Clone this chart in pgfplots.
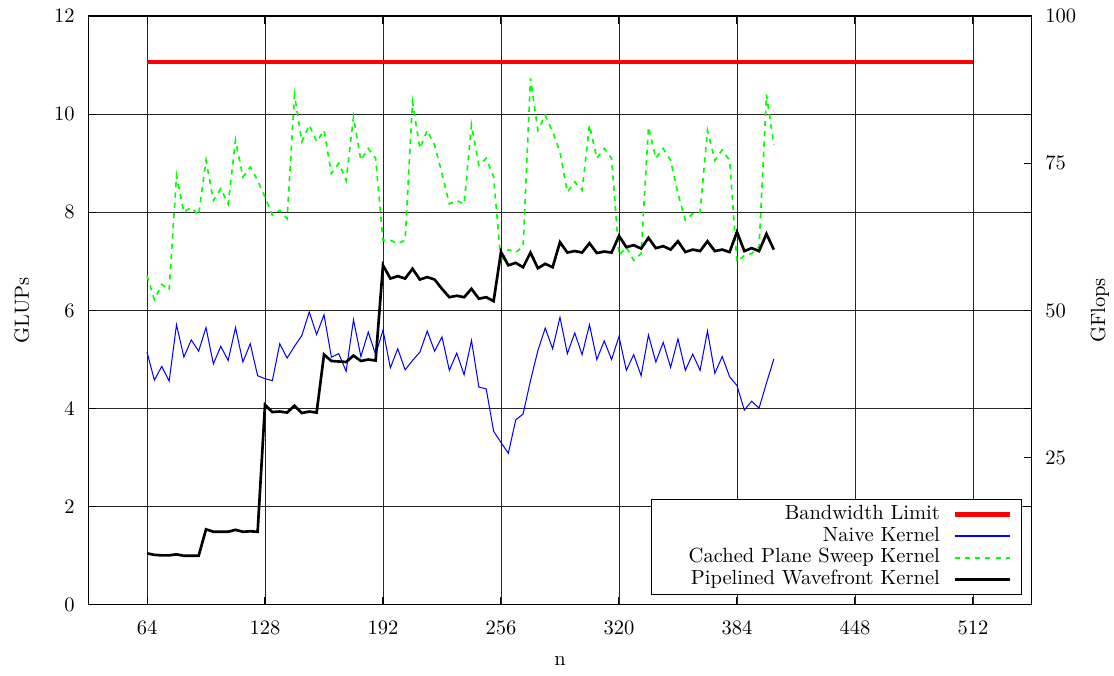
\documentclass[border=0pt]{standalone}
\usepackage{pgfplots}
\pgfplotsset{compat=1.18}
\definecolor{gpred}{RGB}{255,0,0}
\definecolor{gpgreen}{RGB}{0,255,0}
\definecolor{gpblue}{RGB}{0,0,255}

% n, GLUPs
\pgfplotstableread{
n naive cached pipe
64 5.15 6.71 1.05
68 4.58 6.22 1.02
72 4.86 6.53 1.01
76 4.56 6.42 1.01
80 5.71 8.75 1.03
84 5.05 8.00 1.00
88 5.40 8.10 1.00
92 5.17 7.94 1.00
96 5.65 9.06 1.54
100 4.91 8.24 1.49
104 5.27 8.48 1.49
108 4.98 8.17 1.49
112 5.65 9.47 1.53
116 4.95 8.72 1.49
120 5.32 8.92 1.50
124 4.67 8.65 1.49
128 4.61 8.31 4.08
132 4.57 7.94 3.93
136 5.32 8.04 3.94
140 5.03 7.87 3.92
144 5.27 10.39 4.06
148 5.49 9.44 3.91
152 5.97 9.78 3.94
156 5.51 9.44 3.92
160 5.91 9.67 5.10
164 5.05 8.79 4.97
168 5.12 9.00 4.96
172 4.76 8.65 4.95
176 5.81 9.94 5.08
180 5.06 9.06 4.97
184 5.56 9.30 5.00
188 5.10 9.10 4.98
192 5.60 7.43 6.92
196 4.83 7.43 6.65
200 5.22 7.36 6.70
204 4.79 7.43 6.65
208 4.98 10.25 6.85
212 5.15 9.30 6.63
216 5.58 9.67 6.68
220 5.17 9.37 6.63
224 5.46 8.79 6.44
228 4.78 8.17 6.27
232 5.13 8.24 6.30
236 4.69 8.17 6.27
240 5.39 9.78 6.44
244 4.44 8.96 6.24
248 4.40 9.10 6.27
252 3.54 8.72 6.19
256 3.31 6.98 7.19
260 3.09 7.24 6.92
264 3.77 7.18 6.97
268 3.89 7.31 6.88
272 4.57 10.73 7.18
276 5.18 9.67 6.86
280 5.64 9.98 6.95
284 5.22 9.64 6.88
288 5.86 9.23 7.39
292 5.12 8.41 7.18
296 5.54 8.62 7.21
300 5.10 8.45 7.18
304 5.71 9.78 7.37
308 5.00 9.10 7.17
312 5.38 9.30 7.20
316 5.00 9.10 7.18
320 5.47 7.12 7.52
324 4.78 7.29 7.29
328 5.10 7.02 7.33
332 4.67 7.16 7.26
336 5.50 9.74 7.48
340 4.95 9.10 7.27
344 5.35 9.30 7.31
348 4.84 9.06 7.24
352 5.42 8.38 7.41
356 4.78 7.84 7.19
360 5.11 7.97 7.24
364 4.78 8.00 7.21
368 5.58 9.67 7.41
372 4.72 9.06 7.21
376 5.06 9.27 7.24
380 4.65 9.06 7.19
384 4.47 6.99 7.60
388 3.97 7.12 7.21
392 4.15 7.16 7.27
396 4.01 7.30 7.21
400 4.52 10.40 7.56
404 5.01 9.37 7.24
}\kerneldata

\begin{document}
\begin{tikzpicture}
\begin{axis}[
    scale only axis,
    width=460pt, height=287pt,
    xmin=32, xmax=544,
    ymin=0, ymax=12,
    xtick={64,128,...,512},
    ytick={0,2,...,12},
    grid=major,
    grid style={black!85, line width=0.42pt},
    axis line style={black, line width=0.5pt},
    tick align=inside,
    major tick length=4pt,
    tick style={black, line width=0.5pt},
    xticklabel style={yshift=-4.5pt},
    yticklabel style={xshift=-3pt},
    xlabel={n},
    ylabel={GLUPs},
    xlabel style={at={(axis description cs:0.5,-0.095)}, anchor=center},
    ylabel style={at={(axis description cs:-0.070,0.5)}, anchor=center},
    legend plot pos=right,
    legend cell align=right,
    legend style={at={(0.9894,0.017)}, anchor=south east,
        inner xsep=4.5pt, inner ysep=2.3pt,
        column sep=5.5pt, row sep=0.6pt,
        nodes={inner sep=0.5pt, text height=7pt, text depth=2pt}},
]
\addplot[gpred, line width=2.3pt, forget plot] coordinates {(64,11.06) (512,11.06)};
\addplot[gpblue, line width=0.5pt, forget plot] table[x=n, y=naive] {\kerneldata};
\addplot[gpgreen, line width=0.8pt, dash pattern=on 2.5pt off 2.5pt, forget plot] table[x=n, y=cached] {\kerneldata};
\addplot[black, line width=1.3pt, forget plot] table[x=n, y=pipe] {\kerneldata};

\addlegendimage{legend image code/.code={\draw[gpred, line width=2.3pt] (0pt,0pt) -- (27pt,0pt);}}
\addlegendentry{Bandwidth Limit}
\addlegendimage{legend image code/.code={\draw[gpblue, line width=0.5pt] (0pt,0pt) -- (27pt,0pt);}}
\addlegendentry{Naive Kernel}
\addlegendimage{legend image code/.code={\draw[gpgreen, line width=0.8pt, dash pattern=on 2.5pt off 2.5pt] (0pt,0pt) -- (27pt,0pt);}}
\addlegendentry{\hspace*{13pt}Cached Plane Sweep Kernel}
\addlegendimage{legend image code/.code={\draw[black, line width=1.3pt] (0pt,0pt) -- (27pt,0pt);}}
\addlegendentry{Pipelined Wavefront Kernel}
\end{axis}
\begin{axis}[
    scale only axis,
    width=460pt, height=287pt,
    xmin=32, xmax=544,
    ymin=0, ymax=100,
    axis x line=none,
    axis y line*=right,
    ytick={25,50,75,100},
    tick align=inside,
    major tick length=4pt,
    tick style={black, line width=0.5pt},
    axis line style={black, line width=0.5pt, -},
    yticklabel style={xshift=3pt},
    ylabel={GFlops},
    ylabel style={at={(axis description cs:1.072,0.5)}, anchor=center, rotate=0},
]
\end{axis}
\pgfresetboundingbox
\path[use as bounding box] ([xshift=-42.9pt,yshift=-34.6pt]current axis.south west)
    rectangle ([xshift=40pt,yshift=7.8pt]current axis.north east);
\end{tikzpicture}
\end{document}
